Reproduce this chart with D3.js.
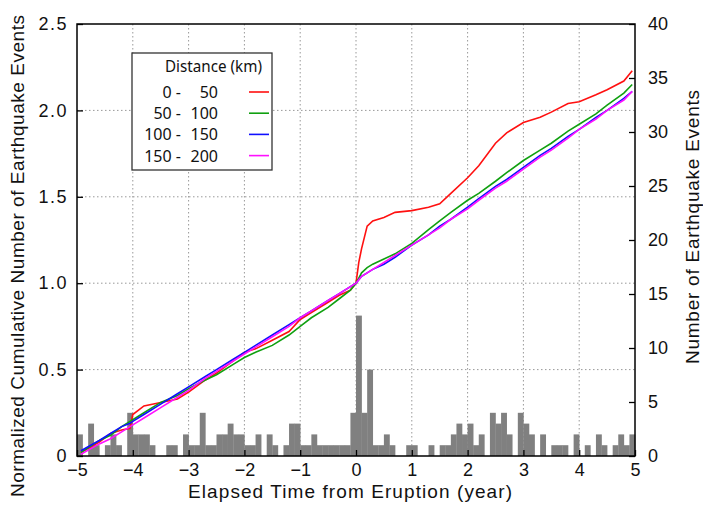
<!DOCTYPE html>
<html>
<head>
<meta charset="utf-8">
<script src="https://cdn.jsdelivr.net/npm/d3@7"></script>
<style>
  body { margin: 0; background: #fff; }
  .ax text { font-family: "Liberation Sans", Arial, sans-serif; }
</style>
</head>
<body>
<div id="chart"></div>
<script>
// histogram: event counts in 0.1-year bins from -5 to 5
const binWidth = 0.1;
const binCounts = [
  2, 0, 3, 1, 0, 1, 2, 1, 0, 4,
  2, 2, 2, 1, 0, 0, 1, 1, 0, 2,
  1, 1, 4, 1, 1, 2, 2, 3, 2, 2,
  1, 1, 2, 0, 2, 1, 0, 1, 3, 3,
  1, 1, 2, 1, 1, 1, 1, 1, 1, 4,
  13, 4, 8, 1, 1, 2, 1, 0, 0, 1,
  1, 0, 0, 1, 0, 1, 1, 2, 3, 2,
  3, 1, 2, 0, 4, 3, 4, 2, 0, 4,
  3, 2, 0, 2, 0, 1, 1, 1, 0, 2,
  0, 1, 0, 2, 1, 0, 1, 2, 1, 2
];

// cumulative curves
const curveTimes = [-4.93, -4.6, -4.4, -4.2, -4.05, -4.0, -3.8, -3.5, -3.2, -3.0, -2.7, -2.5, -2.2, -2.0,
  -1.8, -1.5, -1.2, -1.0, -0.8, -0.5, -0.3, -0.1, 0.0, 0.05, 0.1, 0.2, 0.3, 0.5, 0.7, 1.0,
  1.3, 1.5, 1.7, 2.0, 2.2, 2.5, 2.7, 3.0, 3.3, 3.5, 3.8, 4.0, 4.3, 4.5, 4.8, 4.95];
const red0to50 = [0.02, 0.08, 0.13, 0.15, 0.16, 0.24, 0.29, 0.31, 0.33, 0.37, 0.44, 0.48, 0.55, 0.60,
  0.62, 0.67, 0.72, 0.79, 0.83, 0.89, 0.93, 0.96, 1.0, 1.12, 1.2, 1.33, 1.36, 1.38, 1.41, 1.42,
  1.44, 1.46, 1.52, 1.61, 1.68, 1.81, 1.87, 1.93, 1.96, 1.99, 2.04, 2.05, 2.09, 2.12, 2.17, 2.23];
const green50to100 = [0.02, 0.09, 0.12, 0.17, 0.20, 0.21, 0.25, 0.31, 0.35, 0.39, 0.44, 0.47, 0.53, 0.57,
  0.60, 0.64, 0.70, 0.75, 0.80, 0.86, 0.91, 0.96, 1.0, 1.03, 1.06, 1.09, 1.11, 1.14, 1.17, 1.23,
  1.31, 1.36, 1.41, 1.48, 1.52, 1.59, 1.64, 1.71, 1.77, 1.81, 1.88, 1.92, 1.98, 2.03, 2.10, 2.15];
const blue100to150 = [0.03, 0.09, 0.13, 0.17, 0.19, 0.20, 0.24, 0.30, 0.36, 0.40, 0.46, 0.50, 0.56, 0.60,
  0.64, 0.70, 0.76, 0.80, 0.84, 0.90, 0.94, 0.98, 1.0, 1.02, 1.04, 1.06, 1.08, 1.11, 1.15, 1.22,
  1.28, 1.33, 1.37, 1.44, 1.49, 1.56, 1.60, 1.67, 1.74, 1.78, 1.85, 1.89, 1.96, 2.00, 2.07, 2.11];
const magenta150to200 = [0.01, 0.07, 0.10, 0.14, 0.17, 0.18, 0.22, 0.28, 0.34, 0.38, 0.45, 0.49, 0.55, 0.59,
  0.63, 0.69, 0.75, 0.80, 0.84, 0.90, 0.94, 0.98, 1.0, 1.02, 1.04, 1.06, 1.08, 1.12, 1.16, 1.22,
  1.28, 1.32, 1.37, 1.43, 1.48, 1.55, 1.59, 1.66, 1.73, 1.77, 1.84, 1.89, 1.95, 2.00, 2.06, 2.11];

const seriesLabels = [["0 -", "50"], ["50 -", "100"], ["100 -", "150"], ["150 -", "200"]];
const seriesColors = ["#ff1010", "#10a010", "#1010ff", "#ff10ff"];
const seriesValues = [red0to50, green50to100, blue100to150, magenta150to200];

const xTicks = [-5, -4, -3, -2, -1, 0, 1, 2, 3, 4, 5];
const yTicks = [0, 0.5, 1.0, 1.5, 2.0, 2.5];
const countTicks = [0, 5, 10, 15, 20, 25, 30, 35, 40];

const W = 703, H = 509;
const pLeft = 77, pRight = 635, pTop = 24, pBottom = 456;

const svg = d3.select("#chart").append("svg").attr("width", W).attr("height", H);

const x = d3.scaleLinear().domain([-5, 5]).range([pLeft, pRight]);
const y = d3.scaleLinear().domain([0, 2.5]).range([pBottom, pTop]);
const yc = d3.scaleLinear().domain([0, 40]).range([pBottom, pTop]);

// grid
svg.append("g")
  .selectAll("line")
  .data(xTicks.slice(1, -1))
  .join("line")
  .attr("x1", (d) => x(d)).attr("x2", (d) => x(d))
  .attr("y1", pTop).attr("y2", pBottom)
  .attr("stroke", "#999").attr("stroke-dasharray", "1.5,2.5");
svg.append("g")
  .selectAll("line")
  .data(yTicks.slice(1, -1))
  .join("line")
  .attr("x1", pLeft).attr("x2", pRight)
  .attr("y1", (d) => y(d)).attr("y2", (d) => y(d))
  .attr("stroke", "#999").attr("stroke-dasharray", "1.5,2.5");

// histogram
svg.append("g")
  .selectAll("rect")
  .data(binCounts)
  .join("rect")
  .attr("x", (d, i) => x(-5 + i * binWidth))
  .attr("width", (d, i) => x(-5 + (i + 1) * binWidth) - x(-5 + i * binWidth) + 0.3)
  .attr("y", (d) => yc(d))
  .attr("height", (d) => yc(0) - yc(d))
  .attr("fill", "#808080");

// curves
const line = d3.line().x((d) => x(d[0])).y((d) => y(d[1]));
seriesValues.forEach((vals, k) => {
  svg.append("path")
    .datum(curveTimes.map((t, i) => [t, vals[i]]))
    .attr("d", line)
    .attr("fill", "none")
    .attr("stroke", seriesColors[k])
    .attr("stroke-width", 1.6);
});

// axes
const tickFont = 18;
const xAxis = svg.append("g").attr("class", "ax")
  .attr("transform", `translate(0,${pBottom})`)
  .call(d3.axisBottom(x).tickValues(xTicks).tickSizeInner(-6).tickSizeOuter(0).tickPadding(7));
const yAxis = svg.append("g").attr("class", "ax")
  .attr("transform", `translate(${pLeft},0)`)
  .call(d3.axisLeft(y).tickValues(yTicks).tickSizeInner(-6).tickSizeOuter(0).tickPadding(9)
    .tickFormat((d) => (d === 0 ? "0" : d3.format(".1f")(d))));
const cAxis = svg.append("g").attr("class", "ax")
  .attr("transform", `translate(${pRight},0)`)
  .call(d3.axisRight(yc).tickValues(countTicks).tickSizeInner(-6).tickSizeOuter(0).tickPadding(13));
[xAxis, yAxis, cAxis].forEach((g) => {
  g.select(".domain").remove();
  g.selectAll("line").attr("stroke", "#000").attr("stroke-width", 1.3);
  g.selectAll("text").attr("font-size", tickFont).attr("fill", "#111");
});
yAxis.selectAll("text").attr("letter-spacing", 1.5);

// frame
svg.append("rect")
  .attr("x", pLeft).attr("y", pTop)
  .attr("width", pRight - pLeft).attr("height", pBottom - pTop)
  .attr("fill", "none").attr("stroke", "#000").attr("stroke-width", 1.5);

// titles
const titles = svg.append("g").attr("class", "ax").attr("fill", "#111");
titles.append("text")
  .attr("x", (pLeft + pRight) / 2 - 6).attr("y", 498)
  .attr("text-anchor", "middle").attr("font-size", 19)
  .attr("textLength", 324).attr("lengthAdjust", "spacing")
  .text("Elapsed Time from Eruption (year)");
titles.append("text")
  .attr("transform", "translate(24,256) rotate(-90)")
  .attr("text-anchor", "middle").attr("font-size", 19)
  .attr("textLength", 482).attr("lengthAdjust", "spacing")
  .text("Normalized Cumulative Number of Earthquake Events");
titles.append("text")
  .attr("transform", "translate(699,227) rotate(-90)")
  .attr("text-anchor", "middle").attr("font-size", 19)
  .attr("textLength", 274).attr("lengthAdjust", "spacing")
  .text("Number of Earthquake Events");

// legend
const lg = svg.append("g").attr("font-family", "'Noto Sans', 'Open Sans', sans-serif").attr("font-size", 16).attr("fill", "#111");
lg.append("rect")
  .attr("x", 132).attr("y", 53).attr("width", 140).attr("height", 117)
  .attr("fill", "#fff").attr("stroke", "#333").attr("stroke-width", 1.3);
lg.append("text").attr("x", 165).attr("y", 72)
  .attr("textLength", 97).attr("lengthAdjust", "spacingAndGlyphs").text("Distance (km)");
seriesLabels.forEach((lab, i) => {
  const yy = 92 + i * 21.2;
  lg.append("text").attr("x", 181).attr("y", yy + 6).attr("text-anchor", "end").text(lab[0]);
  lg.append("text").attr("x", 218).attr("y", yy + 6).attr("text-anchor", "end").text(lab[1]);
  lg.append("line")
    .attr("x1", 249).attr("x2", 269).attr("y1", yy).attr("y2", yy)
    .attr("stroke", seriesColors[i]).attr("stroke-width", 1.6);
});
</script>
</body>
</html>
